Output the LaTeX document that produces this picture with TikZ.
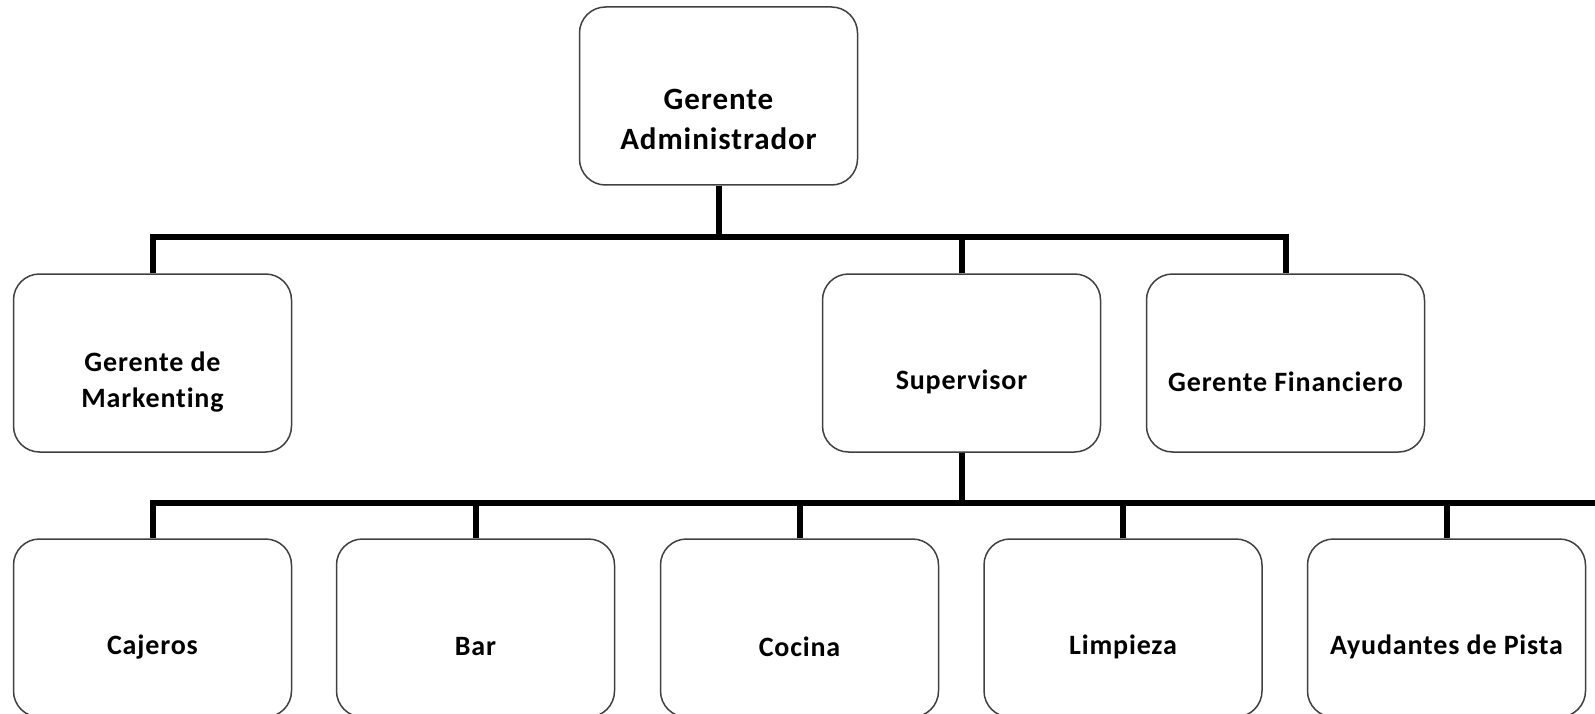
\documentclass[tikz,border=0pt]{standalone}
\usepackage{fontspec}
\setmainfont{Carlito}[Ligatures=NoCommon, LetterSpace=3]
\begin{document}
\begin{tikzpicture}[x=1pt,y=-1pt,
  orgbox/.style={draw=black!75, line width=1.5pt, rounded corners=26pt, fill=white,
    minimum width=278pt, minimum height=178pt, inner sep=0pt},
  lbl/.style={font=\bfseries\fontsize{28}{36}\selectfont, align=center, yshift=-19pt, inner sep=0pt},
  toplbl/.style={font=\bfseries\fontsize{31}{40}\selectfont, align=center, yshift=-23pt, inner sep=0pt},
  conn/.style={line width=6pt, black}]
\useasboundingbox (0,0) rectangle (1595,714);
\begin{scope}
\clip (0,0) rectangle (1595,714);
% connectors
\coordinate (tb) at (718.5,237);
\coordinate (bb) at (961.5,503);
\coordinate (bend) at (1600,503);
\node[orgbox, label={[toplbl]center:Gerente\\Administrador}] (top) at (718.5,96) {};
\node[orgbox, label={[lbl]center:Gerente de\\Markenting}] (mkt) at (152.5,363) {};
\node[orgbox, label={[lbl]center:Supervisor}] (sup) at (961.5,363) {};
\node[orgbox, label={[lbl]center:Gerente Financiero}] (fin) at (1285.5,363) {};
\node[orgbox, label={[lbl]center:Cajeros}] (caj) at (152.5,628) {};
\node[orgbox, label={[lbl]center:Bar}] (bar) at (475.5,628) {};
\node[orgbox, label={[lbl]center:Cocina}] (coc) at (799.5,628) {};
\node[orgbox, label={[lbl]center:Limpieza}] (lim) at (1123,628) {};
\node[orgbox, label={[lbl]center:Ayudantes de Pista}] (ayu) at (1446.5,628) {};
\draw[conn] (top.south) -- (tb);
\draw[conn] (mkt.north) -- (mkt.north |- tb) -- (fin.north |- tb) -- (fin.north);
\draw[conn] (sup.north) -- (sup.north |- tb);
\draw[conn] (sup.south) -- (bb);
\draw[conn] (caj.north) -- (caj.north |- bb) -- (bend);
\draw[conn] (bar.north) -- (bar.north |- bb);
\draw[conn] (coc.north) -- (coc.north |- bb);
\draw[conn] (lim.north) -- (lim.north |- bb);
\draw[conn] (ayu.north) -- (ayu.north |- bb);
\end{scope}
\end{tikzpicture}
\end{document}
